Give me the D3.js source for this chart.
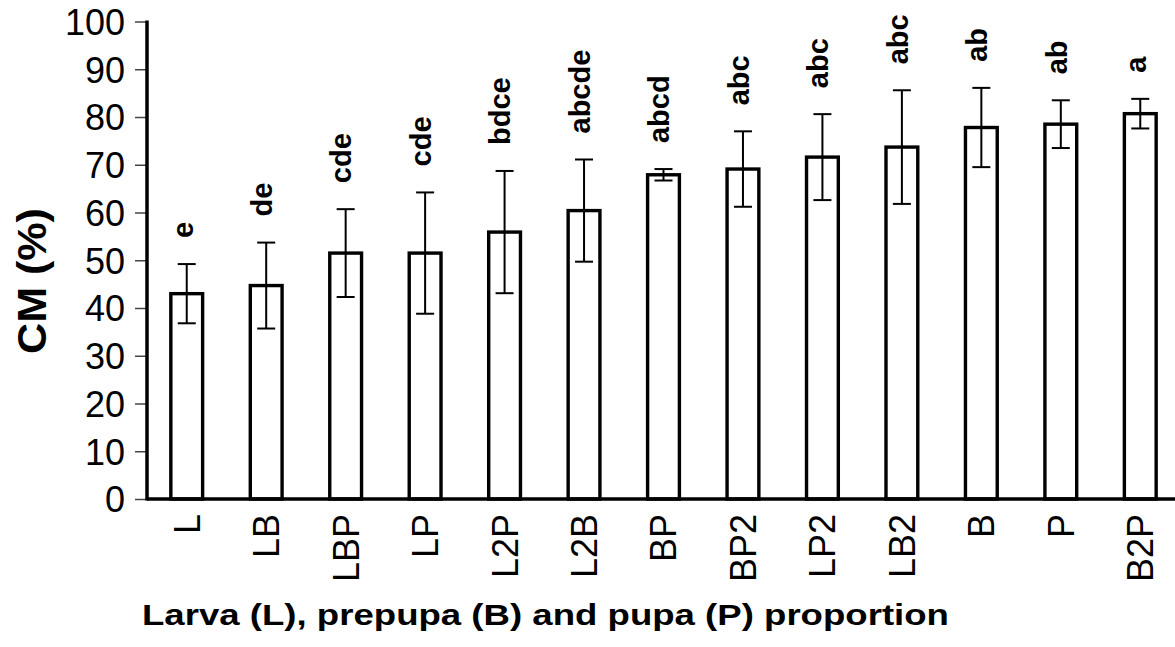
<!DOCTYPE html>
<html>
<head>
<meta charset="utf-8">
<script src="https://cdn.jsdelivr.net/npm/d3@7/dist/d3.min.js"></script>
<style>
  html, body { margin: 0; padding: 0; background: #fff; }
  svg { display: block; }
  text { font-family: "Liberation Sans", Arial, Helvetica, sans-serif; fill: #000; }
</style>
</head>
<body>
<svg id="chart" width="1175" height="647"></svg>
<script>
// Larval-stage mixes and their CM (%) means with error bars
const categories = ["L", "LB", "LBP", "LP", "L2P", "L2B", "BP", "BP2", "LP2", "LB2", "B", "P", "B2P"];
const means      = [43.0, 44.7, 51.5, 51.5, 55.9, 60.4, 67.9, 69.1, 71.6, 73.7, 77.8, 78.5, 80.7];
const errors     = [6.2, 9.0, 9.2, 12.7, 12.8, 10.7, 1.2, 7.9, 9.0, 11.9, 8.3, 5.0, 3.1];
const letters    = ["e", "de", "cde", "cde", "bdce", "abcde", "abcd", "abc", "abc", "abc", "ab", "ab", "a"];
const yTicks     = [0, 10, 20, 30, 40, 50, 60, 70, 80, 90, 100];

const rows = categories.map((c, i) => ({ cat: c, mean: means[i], err: errors[i], letter: letters[i] }));

const svg = d3.select("#chart");
const plot = { left: 147, right: 1180, top: 21.5, bottom: 499 };

const x = d3.scaleBand()
  .domain(categories)
  .range([plot.left, plot.right])
  .paddingInner(0.6)
  .paddingOuter(0.3);

const y = d3.scaleLinear()
  .domain([0, 100])
  .range([plot.bottom, plot.top]);

// y axis with tick labels
const yAxis = svg.append("g")
  .attr("transform", `translate(${plot.left},0)`)
  .call(d3.axisLeft(y).tickValues(yTicks).tickSize(12).tickSizeOuter(0).tickPadding(10));
yAxis.select(".domain").remove();
yAxis.selectAll(".tick line").attr("stroke", "#444").attr("stroke-width", 1.5);
yAxis.selectAll(".tick text")
  .attr("font-size", 36)
  .attr("dy", "0.36em")
  .style("font-family", "'Liberation Sans', Arial, sans-serif");

// bars
svg.append("g")
  .selectAll("rect")
  .data(rows)
  .join("rect")
  .attr("x", d => x(d.cat))
  .attr("y", d => y(d.mean))
  .attr("width", x.bandwidth())
  .attr("height", d => y(0) - y(d.mean))
  .attr("fill", "#fff")
  .attr("stroke", "#000")
  .attr("stroke-width", 3.4);

// error bars
const capHalf = 9;
const cx = d => x(d.cat) + x.bandwidth() / 2;
const eb = svg.append("g").attr("stroke", "#000").attr("stroke-width", 2);
eb.selectAll("line.stem")
  .data(rows)
  .join("line")
  .attr("class", "stem")
  .attr("x1", cx).attr("x2", cx)
  .attr("y1", d => y(d.mean + d.err))
  .attr("y2", d => y(d.mean - d.err));
eb.selectAll("line.capTop")
  .data(rows)
  .join("line")
  .attr("class", "capTop")
  .attr("x1", d => cx(d) - capHalf).attr("x2", d => cx(d) + capHalf)
  .attr("y1", d => y(d.mean + d.err)).attr("y2", d => y(d.mean + d.err));
eb.selectAll("line.capBot")
  .data(rows)
  .join("line")
  .attr("class", "capBot")
  .attr("x1", d => cx(d) - capHalf).attr("x2", d => cx(d) + capHalf)
  .attr("y1", d => y(d.mean - d.err)).attr("y2", d => y(d.mean - d.err));

// significance letters above each error bar
const letterGap = 26;
svg.append("g")
  .selectAll("text")
  .data(rows)
  .join("text")
  .attr("transform", d => `translate(${cx(d)},${y(d.mean + d.err) - letterGap}) rotate(-90)`)
  .attr("dy", "0.2em")
  .attr("text-anchor", "start")
  .attr("font-size", 29)
  .attr("font-weight", "bold")
  .text(d => d.letter);

// axis lines
svg.append("line")
  .attr("x1", plot.left).attr("x2", plot.left)
  .attr("y1", y(100) - 1).attr("y2", y(0) + 1.5)
  .attr("stroke", "#000").attr("stroke-width", 3.5);
svg.append("line")
  .attr("x1", plot.left).attr("x2", plot.right)
  .attr("y1", y(0)).attr("y2", y(0))
  .attr("stroke", "#000").attr("stroke-width", 3.5);

// x category labels, rotated
const xAxis = svg.append("g")
  .attr("transform", `translate(0,${plot.bottom})`)
  .call(d3.axisBottom(x).tickSize(0).tickPadding(0));
xAxis.select(".domain").remove();
xAxis.selectAll(".tick text")
  .attr("transform", "translate(0,15) rotate(-90)")
  .attr("text-anchor", "end")
  .attr("x", 0).attr("y", 0)
  .attr("dy", "0.36em")
  .attr("font-size", 36)
  .style("font-family", "'Liberation Sans', Arial, sans-serif");

// axis titles
svg.append("text")
  .attr("transform", "translate(46,281) rotate(-90) scale(1.05,1)")
  .attr("text-anchor", "middle")
  .attr("font-size", 41)
  .attr("font-weight", "bold")
  .text("CM (%)");

svg.append("text")
  .attr("transform", "translate(142,625) scale(1.22,1)")
  .attr("text-anchor", "start")
  .attr("font-size", 30)
  .attr("font-weight", "bold")
  .text("Larva (L), prepupa (B) and pupa (P) proportion");
</script>
</body>
</html>
